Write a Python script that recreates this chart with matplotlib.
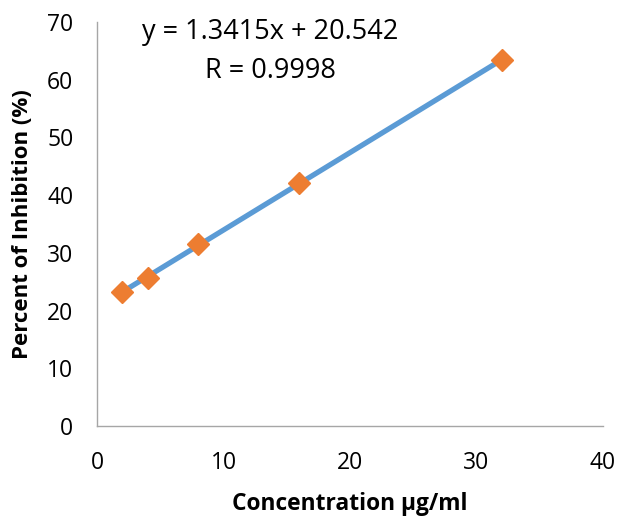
import matplotlib
matplotlib.use("Agg")
import matplotlib.pyplot as plt
import numpy as np

concentration = [2, 4, 8, 16, 32]
inhibition = [23.2, 25.7, 31.6, 42.1, 63.4]
slope = 1.3415
intercept = 20.542
equation_text = "y = 1.3415x + 20.542\nR = 0.9998"

plt.rcParams['font.family'] = ['Open Sans', 'DejaVu Sans']

W, H = 617, 520
fig = plt.figure(figsize=(W / 100, H / 100), dpi=100)
ax = fig.add_axes([97 / W, 1 - 426 / H, (603 - 97) / W, (426 - 22) / H])

xs = np.array([min(concentration), max(concentration)])
ax.plot(xs, slope * xs + intercept, color='#5B9BD5', lw=3.8, solid_capstyle='butt', zorder=2)
ax.plot(concentration, inhibition, linestyle='none', marker='D', ms=11,
        color='#ED7D31', zorder=3)

ax.set_xlim(0, 40)
ax.set_ylim(0, 70)
ax.set_xticks([0, 10, 20, 30, 40])
ax.set_yticks(range(0, 71, 10))
ax.tick_params(length=0, labelsize=16.5, colors='black')
ax.tick_params(axis='y', pad=17)
ax.tick_params(axis='x', pad=18)
for s in ['top', 'right']:
    ax.spines[s].set_visible(False)
for s in ['left', 'bottom']:
    ax.spines[s].set_color('#A6A6A6')
    ax.spines[s].set_linewidth(1.0)

ax.set_xlabel('Concentration µg/ml', fontsize=16.4, fontweight='bold', labelpad=12)
ax.set_ylabel('Percent of Inhibition (%)', fontsize=16, fontweight='bold', labelpad=10)

fig.text(270 / W, 1 - 18 / H, equation_text, ha='center', va='top',
         fontsize=19.5, linespacing=1.5)

fig.savefig('out.png', dpi=100)
